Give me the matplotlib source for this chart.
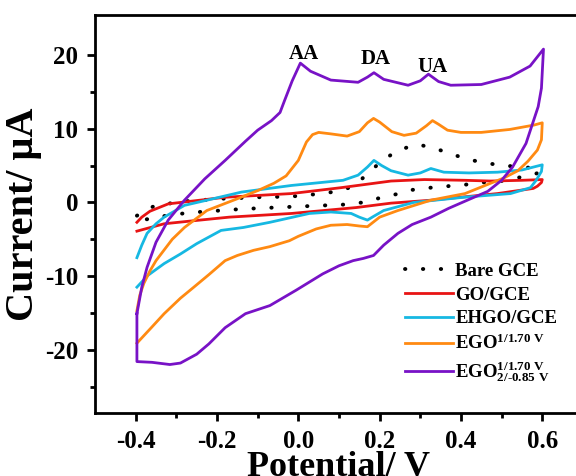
import matplotlib
matplotlib.use("Agg")
import matplotlib.pyplot as plt

plt.rcParams['font.family'] = ['Liberation Serif', 'DejaVu Serif']
plt.rcParams['font.weight'] = 'bold'
plt.rcParams['mathtext.fontset'] = 'custom'
plt.rcParams['mathtext.rm'] = 'Liberation Serif:bold'
plt.rcParams['mathtext.bf'] = 'Liberation Serif:bold'
plt.rcParams['mathtext.it'] = 'Liberation Serif:bold'

# Bare GCE (forward then reverse)
bare_x = [-0.397, -0.355, -0.29, -0.19, -0.1, -0.017, 0.06, 0.105, 0.13, 0.147, 0.174, 0.205, 0.24, 0.284,
          0.30, 0.343, 0.38, 0.42, 0.466, 0.505, 0.55, 0.59, 0.595, 0.578, 0.534, 0.49, 0.45, 0.41, 0.367,
          0.326, 0.28, 0.24, 0.2, 0.16, 0.11, 0.025, -0.06, -0.14, -0.27, -0.35, -0.397]
bare_y = [-1.8, -0.5, 0.1, 0.5, 0.7, 0.8, 1.2, 1.6, 2.1, 2.7, 4.1, 5.6, 6.9, 7.8,
          7.8, 7.2, 6.5, 5.8, 5.3, 5.0, 4.8, 4.6, 4.2, 3.7, 3.3, 2.8, 2.7, 2.4, 2.2,
          2.0, 1.7, 1.1, 0.6, 0.0, -0.3, -0.5, -0.7, -0.9, -1.4, -2.0, -2.6]

# GO/GCE
go_x = [-0.397, -0.385, -0.365, -0.32, -0.18, -0.017, 0.105, 0.228, 0.31, 0.41, 0.473, 0.55, 0.60,
        0.598, 0.588, 0.578, 0.49, 0.326, 0.228, 0.142, -0.017, -0.17, -0.26, -0.33, -0.397]
go_y = [-2.7, -2.0, -1.2, -0.2, 0.7, 1.2, 2.0, 2.9, 3.1, 3.0, 2.9, 3.0, 3.1,
        2.7, 2.2, 1.9, 1.2, 0.3, -0.1, -0.7, -1.5, -2.0, -2.5, -2.9, -3.9]

# EHGO/GCE
ehgo_x = [-0.397, -0.385, -0.372, -0.35, -0.33, -0.28, -0.225, -0.14, -0.017, 0.11, 0.147, 0.17, 0.186, 0.205,
          0.228, 0.27, 0.30, 0.326, 0.358, 0.42, 0.49, 0.55, 0.60,
          0.598, 0.585, 0.571, 0.522, 0.407, 0.284, 0.21, 0.185, 0.17, 0.15, 0.13, 0.08, 0.027,
          -0.07, -0.135, -0.19, -0.25, -0.29, -0.33, -0.37, -0.397]
ehgo_y = [-7.5, -5.8, -4.2, -2.9, -2.0, -0.4, 0.3, 1.4, 2.3, 3.0, 3.7, 4.8, 5.7, 5.0,
          4.3, 3.7, 4.0, 4.6, 4.1, 4.0, 4.1, 4.4, 5.1,
          4.2, 3.0, 2.0, 1.2, 0.7, 0.0, -1.1, -1.9, -2.4, -2.0, -1.5, -1.3, -1.5,
          -2.7, -3.4, -3.8, -5.6, -7.0, -8.3, -9.9, -11.5]

# EGO 1/1.70 V
ego1_x = [-0.397, -0.39, -0.38, -0.365, -0.35, -0.31, -0.28, -0.225, -0.15, -0.1, -0.06, -0.03, 0.0, 0.02,
          0.035, 0.05, 0.08, 0.12, 0.15, 0.17, 0.185, 0.2, 0.23, 0.26, 0.29, 0.315, 0.33, 0.345, 0.367,
          0.4, 0.45, 0.52, 0.58, 0.60,
          0.598, 0.588, 0.565, 0.54, 0.505, 0.473, 0.41, 0.326, 0.245, 0.20, 0.17, 0.15, 0.12, 0.08,
          0.044, 0.0, -0.022, -0.07, -0.11, -0.15, -0.18, -0.22, -0.257, -0.29, -0.33, -0.36, -0.397]
ego1_y = [-14.7, -12.6, -11.0, -9.3, -7.9, -5.0, -3.4, -1.1, 0.5, 1.6, 2.6, 3.6, 5.7, 8.2,
          9.2, 9.5, 9.3, 9.0, 9.6, 10.8, 11.4, 10.9, 9.6, 9.1, 9.4, 10.4, 11.1, 10.6, 9.8,
          9.5, 9.5, 9.9, 10.5, 10.8,
          8.5, 7.1, 5.6, 4.3, 3.3, 2.6, 1.2, 0.3, -1.1, -2.0, -3.3, -3.2, -3.0, -3.1,
          -3.6, -4.6, -5.2, -6.0, -6.5, -7.2, -7.9, -9.8, -11.5, -13.0, -15.1, -16.9, -19.1]

# EGO 1/1.70 V, 2/-0.85 V
ego2_x = [-0.397, -0.39, -0.385, -0.372, -0.35, -0.32, -0.28, -0.23, -0.18, -0.13, -0.10, -0.066, -0.045,
          -0.034, -0.015, 0.005, 0.03, 0.08, 0.147, 0.17, 0.186, 0.21, 0.27, 0.30, 0.32, 0.345, 0.375,
          0.45, 0.52, 0.57, 0.603,
          0.598, 0.59, 0.578, 0.56, 0.527, 0.5, 0.466, 0.424, 0.37, 0.326, 0.28, 0.245, 0.21, 0.185,
          0.16, 0.135, 0.10, 0.06, -0.005, -0.07, -0.13, -0.18, -0.22, -0.25, -0.29, -0.316, -0.36,
          -0.397, -0.397]
ego2_y = [-15.1, -13.0, -11.5, -8.8, -5.4, -2.4, 0.3, 3.2, 5.7, 8.3, 9.8, 11.1, 12.2,
          13.8, 16.5, 18.9, 17.8, 16.6, 16.3, 17.0, 17.6, 16.7, 15.9, 16.5, 17.4, 16.4, 15.9,
          16.0, 17.0, 18.5, 20.8,
          15.5, 13.0, 11.0, 8.0, 4.8, 3.0, 1.5, 0.5, -0.8, -2.0, -3.0, -4.2, -5.8, -7.2,
          -7.6, -7.9, -8.6, -9.7, -11.9, -14.0, -15.1, -17.0, -19.2, -20.6, -21.8, -22.0, -21.7,
          -21.6, -15.1]

peak_labels = ['AA', 'DA', 'UA']
peak_x = [0.015, 0.19, 0.33]
peak_y = [20.2, 19.5, 18.4]

fig = plt.figure(figsize=(5.76, 4.76), dpi=100)
ax = fig.add_axes([0.165, 0.132, 0.847, 0.836])

ax.plot(bare_x, bare_y, color='black', lw=2.8, linestyle=(0, (0.1, 4.5)),
        dash_capstyle='round', label='Bare GCE')
ax.plot(go_x, go_y, color='#E81414', lw=2, label='GO/GCE')
ax.plot(ehgo_x, ehgo_y, color='#16B8E2', lw=2, label='EHGO/GCE')
ax.plot(ego1_x, ego1_y, color='#FF8A12', lw=2, label=r'EGO$^{\mathrm{1/1.70\ V}}$')
ax.plot(ego2_x, ego2_y, color='#7812C6', lw=2,
        label=r'EGO$^{\mathrm{1/1.70\ V}}_{\mathrm{2/\text{-}0.85\ V}}$')

for lab, px, py in zip(peak_labels, peak_x, peak_y):
    ax.text(px, py, lab, ha='center', va='center', fontsize=15, fontweight='bold')

ax.set_xlim(-0.5, 0.7)
ax.set_ylim(-28.6, 25.4)
ax.set_xticks([-0.4, -0.2, 0.0, 0.2, 0.4, 0.6])
ax.set_xticks([-0.3, -0.1, 0.1, 0.3, 0.5], minor=True)
ax.set_yticks([-20, -10, 0, 10, 20])
ax.set_yticks([-25, -15, -5, 5, 15], minor=True)
ax.set_xticklabels(['-0.4', '-0.2', '0.0', '0.2', '0.4', '0.6'])
ax.set_yticklabels(['-20', '-10', '0', '10', '20'])
ax.tick_params(which='major', direction='out', length=6, width=2, labelsize=18)
ax.tick_params(which='minor', direction='out', length=3.5, width=2)
ax.tick_params(axis='y', which='major', pad=6)
ax.tick_params(axis='x', which='major', pad=6)
for s in ax.spines.values():
    s.set_linewidth(2)

ax.set_xlabel('Potential/ V', fontsize=26, fontweight='bold', labelpad=-1)
ax.set_ylabel('Current/ μA', fontsize=29, fontweight='bold', labelpad=2)

ax.legend(loc='upper left', bbox_to_anchor=(0.6, 0.42), frameon=False, fontsize=13.5,
          handlelength=2.6, handletextpad=0.1, labelspacing=0.35)

fig.savefig('out.png', dpi=100)
